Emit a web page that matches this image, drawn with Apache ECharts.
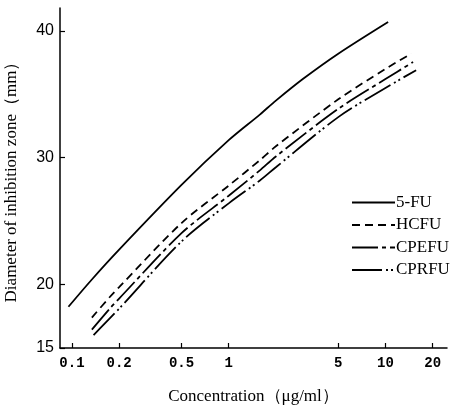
<!DOCTYPE html>
<html><head><meta charset="utf-8">
<script src="https://cdn.jsdelivr.net/npm/echarts@6/dist/echarts.min.js"></script>
<style>html,body{margin:0;padding:0;background:#fff}#c{width:463px;height:405px}</style>
</head><body><div id="c"></div>
<script>
const seriesNames = ['5-FU', 'HCFU', 'CPEFU', 'CPRFU'];
const concFU    = [0.095, 0.134, 0.2, 0.5, 1, 1.58, 2, 3, 5, 10.4];
const zoneFU    = [18.25, 20.4, 22.75, 27.85, 31.38, 33.4, 34.5, 36.24, 38.2, 40.7];
const concHCFU  = [0.134, 0.175, 0.2, 0.5, 1, 1.58, 2, 5, 10, 14.6];
const zoneHCFU  = [17.4, 19.04, 19.8, 24.85, 27.8, 29.8, 30.9, 34.6, 37.0, 38.2];
const concCPEFU = [0.134, 0.175, 0.2, 0.5, 1, 1.58, 2, 5, 10, 15.0];
const zoneCPEFU = [16.45, 18.13, 18.9, 24.05, 27.0, 29.0, 30.1, 33.85, 36.2, 37.54];
const concCPRFU = [0.1374, 0.2, 0.5, 1, 1.58, 2, 5, 10, 15.7];
const zoneCPRFU = [16.02, 18.1, 23.4, 26.4, 28.2, 29.25, 33.2, 35.5, 36.9];
const xTicks = [0.1, 0.2, 0.5, 1, 5, 10, 20];
const yTicks = [15, 20, 30, 40];

const pairs = (xs, ys) => xs.map((x, i) => [x, ys[i]]);
const dashes = ['solid', [8, 5], [26, 4, 4, 4], [30, 4, 2, 3, 2, 4]];
const data = [pairs(concFU, zoneFU), pairs(concHCFU, zoneHCFU), pairs(concCPEFU, zoneCPEFU), pairs(concCPRFU, zoneCPRFU)];

const chart = echarts.init(document.getElementById('c'), null, {renderer: 'canvas'});
chart.setOption({
  animation: false,
  backgroundColor: '#fff',
  grid: {left: 60, right: 16, top: 8, bottom: 57, outerBoundsMode: 'none', containLabel: false},
  legend: {
    orient: 'vertical', left: 351, top: 194, padding: 0,
    itemWidth: 43, itemHeight: 18, itemGap: 5.5,
    itemStyle: {opacity: 0},
    textStyle: {fontFamily: 'Liberation Serif', fontSize: 17, color: '#000', padding: [0, 0, 0, -4]},
    data: seriesNames
  },
  xAxis: {
    type: 'log', logBase: 10, min: 0.0839, max: 24.7,
    name: 'Concentration（μg/ml）', nameLocation: 'middle', nameGap: 40,
    nameTextStyle: {fontFamily: 'Liberation Serif', fontSize: 17, color: '#000'},
    axisLine: {lineStyle: {color: '#000', width: 1.5}},
    axisTick: {inside: true, length: 5, customValues: xTicks, lineStyle: {color: '#000', width: 1.2}},
    minorTick: {show: false},
    axisLabel: {customValues: xTicks, margin: 8, fontFamily: 'Liberation Mono', fontSize: 14, fontWeight: 'bold', color: '#000',
      formatter: v => String(v)},
    splitLine: {show: false}
  },
  yAxis: {
    type: 'value', min: 15, max: 41.8,
    name: 'Diameter of inhibition zone（mm）', nameLocation: 'middle', nameGap: 40, nameRotate: 90,
    nameTextStyle: {fontFamily: 'Liberation Serif', fontSize: 17, color: '#000'},
    axisLine: {show: true, lineStyle: {color: '#000', width: 1.5}},
    axisTick: {show: true, inside: true, length: 5, customValues: yTicks, lineStyle: {color: '#000', width: 1.2}},
    axisLabel: {customValues: yTicks, margin: 6, fontFamily: 'Liberation Sans', fontSize: 16, color: '#000'},
    splitLine: {show: false}
  },
  series: seriesNames.map((n, i) => ({
    name: n, type: 'line', data: data[i], smooth: 0.3, symbol: 'none',
    lineStyle: {color: '#000', width: 1.8, type: dashes[i]},
    itemStyle: {color: '#000'}
  }))
});
</script></body></html>
